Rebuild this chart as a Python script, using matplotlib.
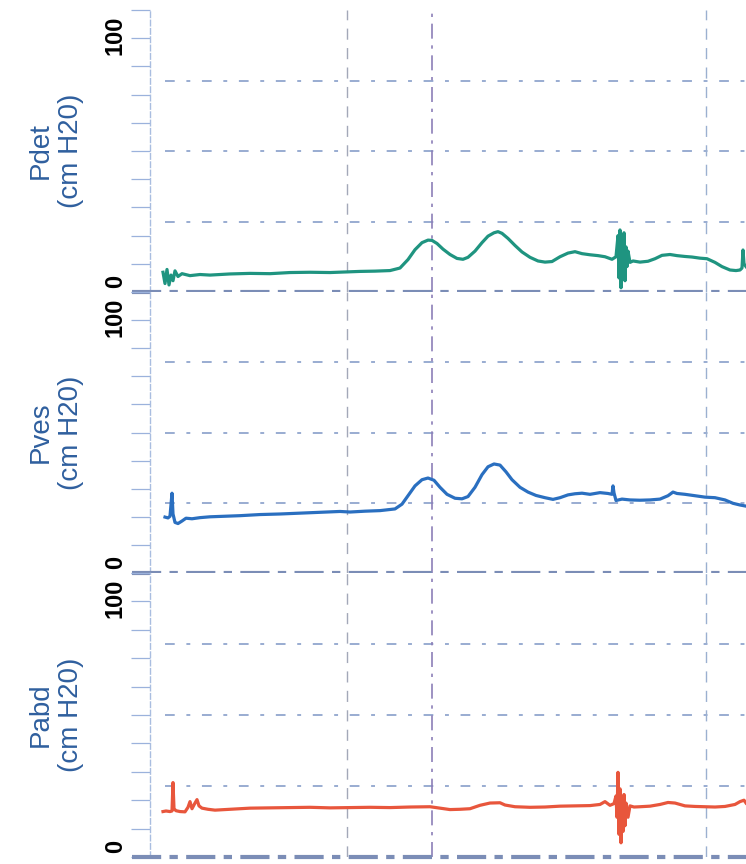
import numpy as np
import matplotlib.pyplot as plt

# time axis in seconds from the start of the trace
t_det = [13, 15, 17, 19, 21, 23, 25, 28, 32, 40, 50, 60, 80, 100, 120, 140, 160, 180, 195,
         210, 225, 240, 250, 258, 265, 272, 278, 282, 287, 293, 300, 307, 313, 318, 325, 332,
         338, 344, 348, 352, 358, 365, 372, 380, 388, 395, 402, 410, 418, 425, 432, 440, 448,
         455, 462, 466, 468, 469, 470, 471, 472, 473, 474, 475, 476, 477, 478, 480, 483, 490,
         498, 505, 512, 520, 527, 535, 542, 550, 557, 565, 572, 580, 586, 590, 592, 593, 594, 596]
pdet = [7, 3, 8, 2.5, 6, 4, 7.5, 5.5, 6.5, 5.8, 6.2, 6.0, 6.4, 6.6, 6.5, 6.9, 7.0, 6.9, 7.1,
        7.3, 7.4, 7.6, 8.5, 11.5, 15, 17.5, 18.4, 18.3, 17.2, 15.2, 13.3, 11.9, 11.6, 12.3, 14.5, 17.5,
        19.8, 21.0, 21.4, 20.8, 19.0, 16.5, 14.2, 12.3, 11.0, 10.6, 10.8, 12.5, 13.8, 14.3, 13.6, 13.2, 12.9,
        12.5, 11.6, 12.5, 20, 5, 22, 1.5, 18, 8, 21, 4, 16, 9, 14.5, 10.5, 11, 10.6,
        10.9, 11.8, 13.0, 13.3, 12.9, 12.6, 12.4, 12.0, 11.8, 10.5, 9.0, 7.8, 7.6, 7.8, 8.5, 14.9, 10, 9]

t_ves = [15, 18, 20, 22, 23, 25, 28, 32, 36, 42, 50, 60, 75, 90, 110, 130, 150, 170, 190, 200,
         215, 230, 245, 252, 258, 265, 272, 278, 284, 290, 297, 305, 312, 318, 325, 332, 338, 344,
         350, 356, 362, 370, 378, 386, 395, 403, 410, 418, 425, 432, 440, 450, 458, 462, 463, 464,
         466, 472, 480, 490, 500, 510, 518, 523, 527, 535, 545, 555, 565, 575, 583, 590, 596]
pves = [19.9, 19.6, 20.2, 28.4, 21, 18, 17.6, 18.5, 19.5, 19.3, 19.7, 20.0, 20.2, 20.4, 20.8, 21.0, 21.3, 21.6, 21.9, 21.7,
        22.0, 22.2, 22.8, 24.5, 27.5, 31, 33.2, 33.8, 33.0, 30.5, 28.0, 26.6, 26.4, 27.2, 30.5, 35, 37.8, 38.8,
        38.4, 36.0, 33.2, 30.5, 28.8, 27.6, 26.8, 26.2, 26.8, 27.8, 28.2, 28.4, 28.0, 28.6, 28.3, 28.0, 31, 28.5,
        25.8, 26.3, 26.0, 25.9, 26.0, 26.3, 27.5, 28.8, 28.3, 28.0, 27.5, 27.0, 26.8, 26.0, 24.8, 24.2, 23.8]

t_abd = [13, 16, 20, 22, 23, 24, 26, 30, 35, 38, 40, 42, 45, 47, 49, 52, 58, 65, 75, 85, 100,
         120, 140, 160, 180, 200, 220, 240, 260, 280, 290, 300, 310, 320, 330, 340, 350, 355, 365,
         380, 395, 410, 425, 440, 450, 455, 460, 464, 466, 467, 468, 469, 470, 471, 472, 473, 474,
         475, 476, 478, 480, 484, 490, 500, 510, 518, 525, 535, 545, 555, 565, 575, 585, 590, 594, 596]
pabd = [16.0, 16.2, 16.0, 16.2, 26.2, 17, 16.3, 16.0, 15.9, 17.5, 19.5, 17, 19, 20.2, 18, 17.2, 16.8, 16.5, 16.7, 16.9, 17.2,
        17.3, 17.4, 17.5, 17.3, 17.4, 17.5, 17.4, 17.6, 17.7, 17.2, 16.7, 16.8, 17.0, 18.2, 19.0, 19.1, 18.3, 17.7,
        17.5, 17.6, 17.9, 18.0, 18.1, 18.5, 19.5, 18.2, 18.8, 21.5, 14, 29.8, 8, 24, 5.0, 20, 9, 22,
        11, 19, 14, 18, 17.6, 17.7, 17.9, 18.5, 19.2, 19.0, 18.0, 17.8, 17.7, 17.6, 17.8, 18.5, 19.5, 20, 19]

names = ['Pdet', 'Pves', 'Pabd']
units = '(cm H20)'
events = [197, 282, 556]
grid_levels = [25, 50, 75]

series = [(t_det, pdet, '#1f9480'), (t_ves, pves, '#2a6fc0'), (t_abd, pabd, '#e8563c')]

fig = plt.figure(figsize=(7.46, 8.64), dpi=100)
plt.rcParams['font.family'] = ['Liberation Sans', 'DejaVu Sans']

W, H = 746, 864
left = 150 / W
edges = [10, 292, 573, 857]

for i, (t, v, col) in enumerate(series):
    top_px, bot_px = edges[i], edges[i + 1]
    ax = fig.add_axes([left, 1 - bot_px / H, 1 - left, (bot_px - top_px) / H])
    ax.set_xlim(0, 596)
    ax.set_ylim(0, 100)
    for s in ['top', 'right', 'bottom']:
        ax.spines[s].set_visible(False)
    ax.spines['left'].set_color('#a9bde0')
    ax.spines['left'].set_linewidth(1.0)
    ax.spines['left'].set_linestyle((0, (4, 2)))
    ax.set_xticks([])
    ax.set_yticks(range(0, 101, 10))
    ax.set_yticklabels([])
    ax.tick_params(axis='y', direction='out', length=14, width=0.9, color='#9bb2dc')

    # grid
    for g in grid_levels:
        ax.axhline(g, xmin=0.025, color='#7f98c6', lw=1.4, ls=(0, (5, 6, 2, 6)), alpha=0.8)
    ax.axhline(0, xmin=-0.03, color='#7b8db6', lw=3.0, ls=(0, (7, 2, 2, 2)), clip_on=False, zorder=3)
    ax.axvline(events[0], color='#a3a8b8', lw=1.0, ls=(0, (8, 6)))
    ax.axvline(events[1], color='#8c7fb8', lw=1.2, ls=(0, (9, 4, 2, 4)))
    ax.axvline(events[2], color='#9bb0d0', lw=1.0, ls=(0, (8, 6)))

    ax.plot(t, v, color=col, lw=2.3, zorder=4)

    tr = ax.get_yaxis_transform()
    ax.text(-0.058, 1.5, '0', transform=tr, rotation=90, ha='center', va='bottom',
            fontsize=17, fontweight='bold', clip_on=False)
    ax.text(-0.058, 98, '100', transform=tr, rotation=90, ha='center', va='top',
            fontsize=17, fontweight='bold', clip_on=False)
    ax.text(-0.158, 50, names[i] + '\n' + units, transform=tr, rotation=90,
            ha='center', va='center', fontsize=20, color='#2f5f9e', linespacing=1.25,
            multialignment='center')

fig.savefig('out.png', dpi=100)
